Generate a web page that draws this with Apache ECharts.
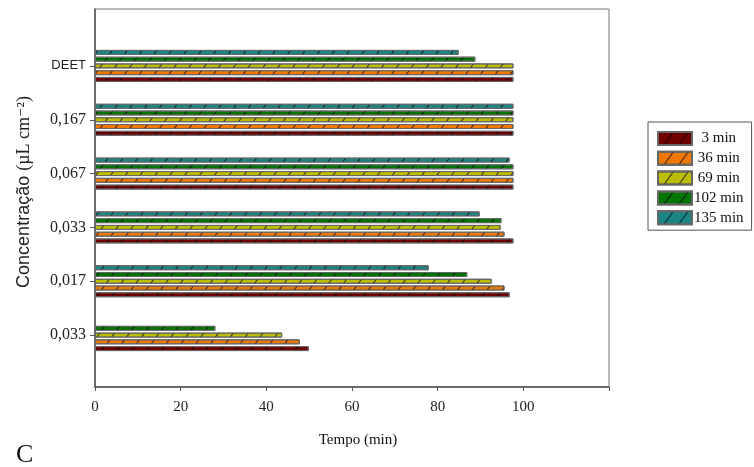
<!DOCTYPE html>
<html><head><meta charset="utf-8">
<script src="https://cdn.jsdelivr.net/npm/echarts@6/dist/echarts.min.js"></script>
<style>html,body{margin:0;padding:0;background:#fff}#c{width:754px;height:467px}</style>
</head><body><div id="c"></div>
<script>
const categories = ['0,033', '0,017', '0,033', '0,067', '0,167', 'DEET'];
const seriesNames = ['3 min', '36 min', '69 min', '102 min', '135 min'];
const v3   = [49.9, 96.8, 97.7, 97.7, 97.7, 97.7];
const v36  = [47.8, 95.6, 95.6, 97.7, 97.7, 97.7];
const v69  = [43.7, 92.6, 94.7, 97.7, 97.7, 97.7];
const v102 = [28.1, 86.9, 94.9, 97.7, 97.7, 88.8];
const v135 = [null, 77.9, 89.8, 96.8, 97.7, 84.9];
const xTickLabels = [0, 20, 40, 60, 80, 100];
const colors = ['#700000', '#f07800', '#bcbc00', '#007400', '#1a8585'];

const values = [v3, v36, v69, v102, v135];
const serif = '"Liberation Serif", "DejaVu Serif", serif';
const sans = '"Liberation Sans", Arial, sans-serif';

const order = [4, 3, 2, 1, 0]; // draw so that 3 min sits at the bottom of each group
const chart = echarts.init(document.getElementById('c'));
chart.setOption({
  animation: false,
  backgroundColor: '#fff',
  title: {
    text: 'C', left: 11, top: 437,
    textStyle: { fontFamily: serif, fontSize: 26, fontWeight: 'normal', color: '#111' }
  },
  legend: {
    orient: 'vertical', left: 648, top: 122,
    padding: [9, 8, 5, 9], itemGap: 4.8,
    itemWidth: 34, itemHeight: 13, icon: 'rect',
    borderColor: '#555', borderWidth: 1,
    data: seriesNames,
    formatter: n => n.length === 5 ? '  ' + n : (n.length === 6 ? ' ' + n : n),
    textStyle: { fontFamily: serif, fontSize: 15, color: '#111', padding: [0, 0, 0, -3] }
  },
  grid: [
    { left: 95, top: 9, right: 145, bottom: 80, show: true, borderColor: '#777', borderWidth: 1 },
    { left: 95, top: 39, right: 145, bottom: 105 }
  ],
  xAxis: [
    {
      gridIndex: 0, type: 'value', min: 0, max: 120, interval: 20,
      name: 'Tempo (min)', nameLocation: 'middle', nameGap: 46,
      nameTextStyle: { fontFamily: serif, fontSize: 15, color: '#111', padding: [0, 0, 0, 12] },
      axisLine: { show: true, lineStyle: { color: '#555', width: 1.5 } },
      axisTick: { show: true, length: 4, lineStyle: { color: '#555' } },
      splitLine: { show: false },
      axisLabel: {
        margin: 13, fontFamily: serif, fontSize: 15, color: '#222',
        formatter: v => xTickLabels.includes(v) ? String(v) : ''
      }
    },
    {
      gridIndex: 1, type: 'value', min: 0, max: 120, show: false
    }
  ],
  yAxis: [
    {
      gridIndex: 0, type: 'value', min: 0, max: 1,
      name: '{a|Concentração }{b|(µL cm⁻²)}', nameLocation: 'middle', nameGap: 62,
      nameTextStyle: {
        padding: [0, 0, 0, 12],
        rich: {
          a: { fontFamily: sans, fontSize: 18, color: '#222' },
          b: { fontFamily: serif, fontSize: 18, color: '#222' }
        }
      },
      axisLine: { show: true, lineStyle: { color: '#555', width: 1.5 } },
      axisTick: { show: false }, axisLabel: { show: false }, splitLine: { show: false }
    },
    {
      gridIndex: 1, type: 'category', data: categories,
      axisLine: { show: false },
      axisTick: { show: true, alignWithLabel: true, length: 5, lineStyle: { color: '#555' } },
      axisLabel: {
        margin: 9,
        formatter: v => /\d/.test(v) ? '{n|' + v + '}' : '{s|' + v + '}',
        rich: {
          n: { fontFamily: serif, fontSize: 16, color: '#222' },
          s: { fontFamily: sans, fontSize: 13, color: '#222' }
        }
      }
    }
  ],
  series: order.map(i => ({
    name: seriesNames[i], type: 'bar', xAxisIndex: 1, yAxisIndex: 1,
    data: values[i],
    barWidth: 5, barGap: '35%',
    itemStyle: {
      color: colors[i], borderColor: '#666', borderWidth: 1,
      decal: {
        symbol: 'rect', symbolSize: 1, color: 'rgba(0,0,0,0.75)',
        dashArrayX: [[1, 11]], dashArrayY: [3, 0], rotation: Math.PI / 5
      }
    }
  }))
});
</script></body></html>
